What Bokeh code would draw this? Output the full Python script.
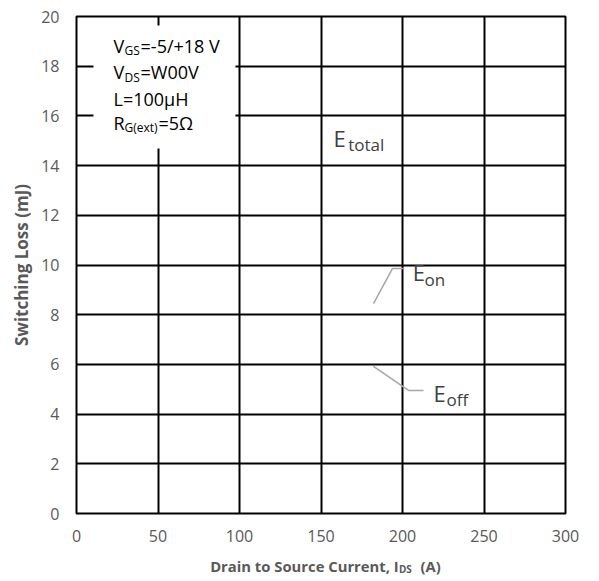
from bokeh.plotting import figure
from bokeh.models import Range1d, FixedTicker
from bokeh.layouts import column
from bokeh.core.properties import value
from bokeh.embed import file_html
from bokeh.resources import INLINE

# ---- data ----
x_ticks = [0, 50, 100, 150, 200, 250, 300]
y_ticks = [0, 2, 4, 6, 8, 10, 12, 14, 16, 18, 20]

# leader lines of the curve labels (data units)
eon_leader_x = [182.2, 193.9, 200.6]
eon_leader_y = [8.45, 9.86, 9.86]
eoff_leader_x = [182.2, 203.7, 212.9]
eoff_leader_y = [5.92, 4.95, 4.95]

# condition box extent (data units)
box_x = [10.4, 97.5]
box_y = [14.69, 19.64]

FONT = "Open Sans"
GRAY = "#595959"
DARK = "#404040"

p = figure(width=599, height=549, output_backend="svg", toolbar_location=None,
           x_range=Range1d(0, 300), y_range=Range1d(0, 20),
           min_border_left=76, min_border_right=34, min_border_top=16, min_border_bottom=36)
p.frame_width = 489
p.frame_height = 497

p.outline_line_color = "black"
p.outline_line_width = 2

p.xaxis.ticker = FixedTicker(ticks=x_ticks)
p.yaxis.ticker = FixedTicker(ticks=y_ticks)
p.xgrid.ticker = FixedTicker(ticks=x_ticks)
p.ygrid.ticker = FixedTicker(ticks=y_ticks)
for g in (p.xgrid, p.ygrid):
    g.grid_line_color = "black"
    g.grid_line_width = 2
    g.grid_line_alpha = 1.0

for ax in (p.xaxis, p.yaxis):
    ax.axis_line_color = None
    ax.major_tick_line_color = None
    ax.minor_tick_line_color = None
    ax.major_tick_out = 0
    ax.major_tick_in = 0
    ax.major_label_text_font = FONT
    ax.major_label_text_font_size = "16px"
    ax.major_label_text_color = GRAY

p.yaxis.major_label_standoff = 17
p.xaxis.major_label_standoff = 16

p.yaxis.axis_label = "Switching Loss (mJ)"
p.yaxis.axis_label_text_font = FONT
p.yaxis.axis_label_text_font_size = "17px"
p.yaxis.axis_label_text_font_style = "bold"
p.yaxis.axis_label_text_color = GRAY
p.yaxis.axis_label_standoff = 5

# condition box
p.quad(left=[box_x[0]], right=[box_x[1]], bottom=[box_y[0]], top=[box_y[1]],
       fill_color="white", line_color=None)

def txt(fig, x, y, s, size, color="black", style="normal"):
    fig.text(x=[x], y=[y], text=[s], text_font=value(FONT), text_font_size=size,
             text_color=color, text_baseline="middle", text_align="left",
             text_font_style=style)

txt(p, 22.7, 18.83, "V", "18px")
txt(p, 29.4, 18.62, "GS", "12px")
txt(p, 39.3, 18.83, "=-5/+18 V", "18px")
txt(p, 22.7, 17.75, "V", "18px")
txt(p, 29.4, 17.54, "DS", "12px")
txt(p, 39.3, 17.75, "=W00V", "18px")
txt(p, 22.7, 16.70, "L=100μH", "18px")
txt(p, 22.7, 15.73, "R", "18px")
txt(p, 29.4, 15.52, "G(ext)", "12px")
txt(p, 50.3, 15.73, "=5Ω", "18px")

# curve labels
txt(p, 157.7, 15.13, "E", "22px", DARK)
txt(p, 166.7, 14.85, "total", "17px", DARK)
txt(p, 206.3, 9.70, "E", "22px", DARK)
txt(p, 213.5, 9.42, "on", "17px", DARK)
txt(p, 219.0, 4.83, "E", "22px", DARK)
txt(p, 227.0, 4.59, "off", "17px", DARK)

p.line(eon_leader_x, eon_leader_y, line_color="#A6A6A6", line_width=1.5)
p.line(eoff_leader_x, eoff_leader_y, line_color="#A6A6A6", line_width=1.5)

# x-axis title (with subscript) in a strip below the chart, sharing the x scale
t = figure(width=599, height=32, output_backend="svg", toolbar_location=None,
           x_range=p.x_range, y_range=Range1d(0, 32),
           min_border_left=76, min_border_right=34, min_border_top=0, min_border_bottom=0)
t.frame_width = 489
t.frame_height = 32
t.axis.visible = False
t.grid.visible = False
t.outline_line_color = None

txt(t, 82.0, 16, "Drain to Source Current, I", "14.8px", GRAY, "bold")
txt(t, 197.8, 12.5, "DS", "10px", GRAY, "bold")
txt(t, 211.0, 16, "(A)", "14.8px", GRAY, "bold")

layout = column(p, t, spacing=0)
open("out.html", "w").write(file_html(layout, INLINE))
